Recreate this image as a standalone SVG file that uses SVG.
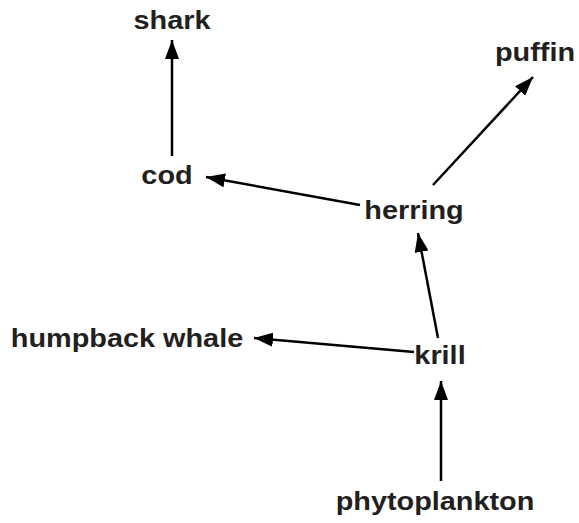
<svg xmlns="http://www.w3.org/2000/svg" width="579" height="523" viewBox="0 0 579 523">
<style>
text{font-family:"Liberation Sans",Arial,Helvetica,sans-serif;font-weight:bold;font-size:26px;fill:#231f20;text-anchor:middle}
.e{stroke:#000;stroke-width:2.5;fill:none;marker-end:url(#ah)}
</style>
<defs>
<marker id="ah" markerUnits="userSpaceOnUse" markerWidth="20" markerHeight="14" refX="19" refY="7" orient="auto">
<path d="M0,0 L19,7 L0,14 Z" fill="#000"/>
</marker>
</defs>
<rect width="579" height="523" fill="#fff"/>
<g id="connectors">
<line class="e" x1="172" y1="156" x2="172" y2="40"/>
<line class="e" x1="433" y1="185" x2="533" y2="77"/>
<line class="e" x1="360" y1="205" x2="206" y2="177"/>
<line class="e" x1="438" y1="338" x2="418" y2="233"/>
<line class="e" x1="414" y1="352" x2="254" y2="338"/>
<line class="e" x1="441" y1="481" x2="441" y2="381"/>
</g>
<g id="shark"><text transform="translate(172,29) scale(1.11,1)">shark</text></g>
<g id="puffin"><text transform="translate(535,61) scale(1.11,1)">puffin</text></g>
<g id="cod"><text transform="translate(167,184) scale(1.11,1)">cod</text></g>
<g id="herring"><text transform="translate(414,219) scale(1.11,1)">herring</text></g>
<g id="humpback"><text transform="translate(127,347) scale(1.11,1)">humpback whale</text></g>
<g id="krill"><text transform="translate(440,364) scale(1.11,1)">krill</text></g>
<g id="phytoplankton"><text transform="translate(435,510) scale(1.11,1)">phytoplankton</text></g>
</svg>
